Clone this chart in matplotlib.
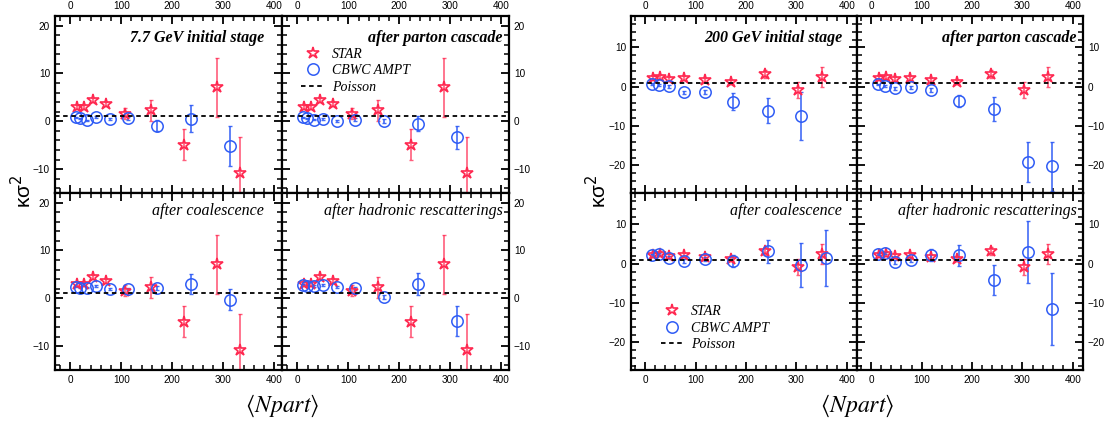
import numpy as np
import matplotlib.pyplot as plt
from matplotlib.ticker import MultipleLocator
from matplotlib.lines import Line2D

# STAR data (same in all four stages)
star77_x = [13, 26, 45, 70, 108, 159, 223, 287, 332]
star77_y = [3.0, 2.9, 4.4, 3.6, 1.6, 2.3, -4.9, 7.1, -10.8]
star77_e = [0.4, 0.4, 0.4, 0.5, 1.2, 2.2, 3.2, 6.2, 7.5]

star200_x = [15, 29, 48, 77, 118, 171, 238, 303, 350]
star200_y = [2.3, 2.6, 2.0, 2.2, 1.8, 1.2, 3.3, -0.8, 2.5]
star200_e = [0.4, 0.5, 0.5, 0.5, 0.5, 0.5, 1.0, 2.1, 2.5]

# CBWC AMPT, 7.7 GeV
ampt77_x = [11, 19.5, 32, 51, 77, 114, 170, 236, 314]
ampt77_init = [0.8, 0.6, 0.2, 0.8, 0.4, 0.6, -0.9, 0.5, -5.2]
ampt77_init_e = [0.1, 0.1, 0.1, 0.2, 0.2, 0.3, 1.1, 2.8, 4.2]
ampt77_parton = [0.8, 0.6, 0.35, 0.55, 0.1, 0.35, 0.0, -0.5, -3.3]
ampt77_parton_e = [0.1, 0.1, 0.1, 0.2, 0.2, 0.3, 0.4, 1.6, 2.4]
ampt77_coal = [2.45, 2.25, 2.25, 2.6, 1.95, 1.95, 2.1, 2.9, -0.35]
ampt77_coal_e = [0.1, 0.1, 0.2, 0.2, 0.2, 0.3, 0.4, 2.1, 2.2]
ampt77_hadr = [2.8, 2.65, 2.6, 2.8, 2.45, 2.1, 0.35, 2.9, -4.7]
ampt77_hadr_e = [0.1, 0.1, 0.2, 0.2, 0.2, 0.3, 0.4, 2.3, 3.1]

# CBWC AMPT, 200 GeV
ampt200_x = [13.5, 27.5, 48, 78, 119, 174, 244, 310, 359]
ampt200_init = [0.65, 0.5, 0.1, -1.35, -1.4, -3.75, -6.1, -7.4]
ampt200_init_e = [0.2, 0.2, 0.3, 0.4, 0.5, 2.2, 3.2, 6.1]
ampt200_parton = [0.6, 0.25, -0.4, -0.15, -0.7, -3.65, -5.75, -19.2, -20.25]
ampt200_parton_e = [0.2, 0.2, 0.3, 0.4, 0.5, 1.5, 3.05, 5.1, 6.3]
ampt200_coal = [2.15, 2.55, 1.6, 0.6, 1.2, 0.75, 3.15, -0.25, 1.45]
ampt200_coal_e = [0.3, 0.3, 0.4, 0.5, 0.6, 1.5, 3.0, 5.55, 7.05]
ampt200_hadr = [2.55, 2.75, 0.45, 1.0, 2.15, 2.15, -4.1, 3.1, -11.55]
ampt200_hadr_e = [0.3, 0.3, 0.4, 0.5, 1.5, 2.7, 3.85, 7.9, 9.2]

RED = '#ff2850'
BLUE = '#2f5cf5'
SERIF = ['Liberation Serif', 'DejaVu Serif']
plt.rcParams['font.family'] = ['Liberation Sans', 'DejaVu Sans']

fig = plt.figure(figsize=(11.06, 4.21), dpi=100)


def panel(rect, sx, sy, se, ax_x, ax_y, ax_e, title, bold, col, row, ylim, yticks, tx):
    ax = fig.add_axes(rect)
    n = len(ax_y)
    ax.errorbar(sx, sy, yerr=se, fmt='none', ecolor=RED, alpha=0.75, elinewidth=1.2, capsize=1.5)
    ax.errorbar(ax_x[:n], ax_y, yerr=ax_e, fmt='none', ecolor=BLUE, alpha=0.9, elinewidth=1.2, capsize=1.5)
    ax.plot(sx, sy, ls='none', marker='*', ms=9, mfc='none', mec=RED, mew=1.2)
    ax.plot(ax_x[:n], ax_y, ls='none', marker='o', ms=8.2, mfc='none', mec=BLUE, mew=1.1)
    ax.axhline(1, color='black', ls=(0, (2.5, 2)), lw=1.3)
    ax.set_xlim(-30, 415)
    ax.set_ylim(*ylim)
    ax.xaxis.set_major_locator(MultipleLocator(100))
    ax.xaxis.set_minor_locator(MultipleLocator(20))
    ax.set_yticks(yticks)
    ax.yaxis.set_minor_locator(MultipleLocator(2))
    ax.tick_params(which='both', direction='in', top=True, right=True, labelsize=7.2)
    ax.tick_params(which='major', length=6, width=1.3)
    ax.tick_params(which='minor', length=3.5, width=1.1)
    ax.tick_params(labelleft=(col == 0), labelright=(col == 1),
                   labeltop=(row == 0), labelbottom=(row == 1))
    for s in ax.spines.values():
        s.set_linewidth(1.6)
    ax.text(tx, 0.876 if row == 0 else 0.898, title, transform=ax.transAxes,
            ha='right', va='center', family=SERIF, style='italic',
            weight='bold' if bold else 'normal', fontsize=11.5)
    return ax


w = 0.2052
h = 0.4204
yb = [0.5416, 0.1211]

# 7.7 GeV
xl = [0.0497, 0.255]
titles77 = ['7.7 GeV initial stage', 'after parton cascade', 'after coalescence', 'after hadronic rescatterings']
data77 = [(ampt77_init, ampt77_init_e), (ampt77_parton, ampt77_parton_e),
          (ampt77_coal, ampt77_coal_e), (ampt77_hadr, ampt77_hadr_e)]
axes77 = []
for i in range(4):
    r, c = divmod(i, 2)
    a = panel([xl[c], yb[r], w, h], star77_x, star77_y, star77_e, ampt77_x,
              data77[i][0], data77[i][1], titles77[i], r == 0, c, r,
              (-15, 22), [-10, 0, 10, 20], 0.92 if c == 0 else 0.973)
    axes77.append(a)

# 200 GeV
xr = [0.5705, 0.7749]
titles200 = ['200 GeV initial stage', 'after parton cascade', 'after coalescence', 'after hadronic rescatterings']
data200 = [(ampt200_init, ampt200_init_e), (ampt200_parton, ampt200_parton_e),
           (ampt200_coal, ampt200_coal_e), (ampt200_hadr, ampt200_hadr_e)]
axes200 = []
for i in range(4):
    r, c = divmod(i, 2)
    a = panel([xr[c], yb[r], 0.2043, h], star200_x, star200_y, star200_e, ampt200_x,
              data200[i][0], data200[i][1], titles200[i], r == 0, c, r,
              (-27, 18), [-20, -10, 0, 10], 0.934 if c == 0 else 0.973)
    a.set_xlim(-28, 420)
    axes200.append(a)

handles = [Line2D([], [], ls='none', marker='*', ms=9, mfc='none', mec=RED, mew=1.2),
           Line2D([], [], ls='none', marker='o', ms=8.2, mfc='none', mec=BLUE, mew=1.1),
           Line2D([], [], color='black', ls=(0, (2.5, 2)), lw=1.3)]
labels = ['STAR', 'CBWC AMPT', 'Poisson']
for a, anchor in [(axes77[1], (0.055, 0.86)), (axes200[2], (0.1, 0.405))]:
    a.legend(handles, labels, loc='upper left', bbox_to_anchor=anchor, frameon=False,
             prop={'family': SERIF, 'style': 'italic', 'size': 10},
             handlelength=1.6, handletextpad=0.6, labelspacing=0.25, borderpad=0)

for x0 in [0.255, 0.7749]:
    fig.text(x0, 0.035, r'$\langle Npart\rangle$', ha='center', va='center',
             fontsize=17, math_fontfamily='stix')
for x0 in [0.02, 0.54]:
    fig.text(x0, 0.545, 'κσ$^{2}$', ha='center', va='center', rotation=90,
             fontsize=15, math_fontfamily='dejavusans')

fig.savefig('out.png', dpi=100)
